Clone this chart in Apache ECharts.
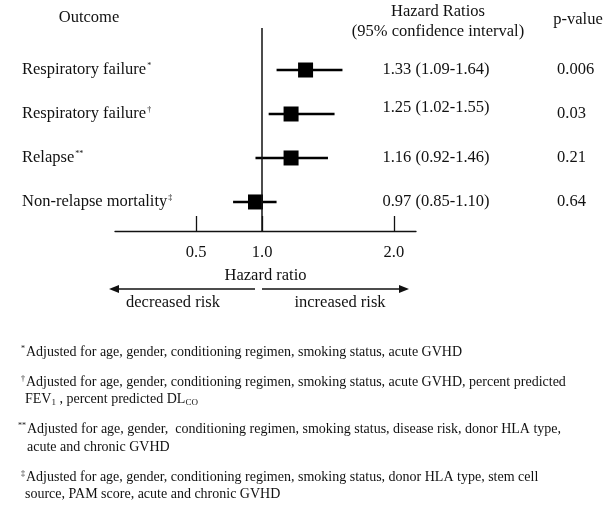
<!DOCTYPE html>
<html><head><meta charset="utf-8">
<script src="https://cdn.jsdelivr.net/npm/echarts@6/dist/echarts.min.js"></script>
<style>html,body{margin:0;padding:0;background:#fff}#c{width:608px;height:511px}</style>
</head><body><div id="c"></div>
<script>
// ---- data ----
var outcomes = ['Respiratory failure', 'Respiratory failure', 'Relapse', 'Non-relapse mortality'];
var outcomeMarks = ['*', '†', '**', '‡'];
var hrEstimate = [1.33, 1.22, 1.22, 0.95];
var ciLower = [1.11, 1.05, 0.95, 0.78];
var ciUpper = [1.61, 1.55, 1.50, 1.11];
var hrText = ['1.33 (1.09-1.64)', '1.25 (1.02-1.55)', '1.16 (0.92-1.46)', '0.97 (0.85-1.10)'];
var pValues = ['0.006', '0.03', '0.21', '0.64'];
var xTicks = [0.5, 1.0, 2.0];
var refValue = 1.0;

var FONT = '"Liberation Serif", "DejaVu Serif", serif';
var FS = 16.5;
var chart = echarts.init(document.getElementById('c'), null, {renderer: 'canvas'});
var rowIdx = outcomes.map(function (_, i) { return i; });

var forestData = rowIdx.map(function (i) { return [i, hrEstimate[i], ciLower[i], ciUpper[i]]; });

function yAxisBase(extra) {
  var o = {
    type: 'value', inverse: true, min: -0.955, max: 3.66,
    splitLine: {show: false}, axisLine: {show: false}, axisTick: {show: false},
    axisLabel: {show: true, customValues: rowIdx, fontFamily: FONT, fontSize: FS, color: '#111'}
  };
  for (var k in extra) {
    if (k === 'axisLabel') { for (var j in extra.axisLabel) o.axisLabel[j] = extra.axisLabel[j]; }
    else o[k] = extra[k];
  }
  return o;
}

var option = {
  backgroundColor: '#fff',
  animation: false,
  grid: {left: 115, right: 192, top: 28, height: 203},
  xAxis: {
    type: 'value', min: -0.116, max: 2.168,
    splitLine: {show: false},
    axisLine: {onZero: false, lineStyle: {color: '#111', width: 1.3}},
    axisTick: {inside: true, length: 15, customValues: xTicks, lineStyle: {color: '#111', width: 1.3}},
    axisLabel: {customValues: xTicks, margin: 13, fontFamily: FONT, fontSize: FS, color: '#111',
      formatter: function (v) { return v.toFixed(1); }},
    name: 'Hazard ratio', nameLocation: 'middle', nameGap: 36,
    nameTextStyle: {fontFamily: FONT, fontSize: FS, color: '#111'}
  },
  yAxis: [
    yAxisBase({position: 'left', axisLabel: {align: 'left', margin: 93,
      formatter: function (v) { return outcomes[v] + '{s|' + outcomeMarks[v] + '}'; },
      rich: {s: {fontFamily: FONT, fontSize: 8, verticalAlign: 'top', padding: [0, 0, 8, 1], color: '#111'}}}}),
    yAxisBase({position: 'right', axisLabel: {align: 'center', margin: 20,
      formatter: function (v) { return v === 1 ? '{up|' + hrText[v] + '}' : hrText[v]; },
      rich: {up: {fontFamily: FONT, fontSize: FS, color: '#111', padding: [0, 0, 13, 0]}}}}),
    yAxisBase({position: 'right', axisLabel: {align: 'left', margin: 141,
      formatter: function (v) { return pValues[v]; }}})
  ],
  series: [{
    type: 'custom',
    data: forestData,
    encode: {x: [1, 2, 3], y: 0},
    renderItem: function (params, api) {
      var y = api.value(0);
      var c = api.coord([api.value(1), y]);
      var l = api.coord([api.value(2), y]);
      var h = api.coord([api.value(3), y]);
      var s = 15;
      return {type: 'group', children: [
        {type: 'line', shape: {x1: l[0], y1: l[1], x2: h[0], y2: h[1]}, style: {stroke: '#000', lineWidth: 2.6}},
        {type: 'rect', shape: {x: c[0] - s / 2, y: c[1] - s / 2, width: s, height: s}, style: {fill: '#000'}}
      ]};
    },
    markLine: {
      silent: true, symbol: 'none', label: {show: false},
      lineStyle: {color: '#111', width: 1.5, type: 'solid'},
      data: [{xAxis: refValue}]
    }
  }]
};

function txt(x, y, text, size, align, rich) {
  return {type: 'text', x: x, y: y, style: {text: text, fontFamily: FONT, fontSize: size, fill: '#111',
    align: align || 'left', verticalAlign: 'middle', rich: rich}};
}
var FN = 14;
var fRich = {
  s: {fontFamily: FONT, fontSize: 8, verticalAlign: 'top', padding: [0, 1, 7, 0], color: '#111'},
  sub: {fontFamily: FONT, fontSize: 9, padding: [7, 0, 0, 0], color: '#111'}
};
option.graphic = [
  txt(89, 18, 'Outcome', FS, 'center'),
  txt(438, 12, 'Hazard Ratios', FS, 'center'),
  txt(438, 32, '(95% confidence interval)', FS, 'center'),
  txt(578, 20, 'p-value', FS, 'center'),
  txt(173, 303, 'decreased risk', FS, 'center'),
  txt(340, 303, 'increased risk', FS, 'center'),
  {type: 'polyline', shape: {points: [[255, 289], [112, 289]]}, style: {stroke: '#111', lineWidth: 1.3}},
  {type: 'polygon', shape: {points: [[109, 289], [119, 285], [119, 293]]}, style: {fill: '#111'}},
  {type: 'polyline', shape: {points: [[262, 289], [405, 289]]}, style: {stroke: '#111', lineWidth: 1.3}},
  {type: 'polygon', shape: {points: [[409, 289], [399, 285], [399, 293]]}, style: {fill: '#111'}},
  txt(21, 352, '{s|*}Adjusted for age, gender, conditioning regimen, smoking status, acute GVHD', FN, 'left', fRich),
  txt(21, 382, '{s|†}Adjusted for age, gender, conditioning regimen, smoking status, acute GVHD, percent predicted', FN, 'left', fRich),
  txt(25, 399, 'FEV{sub|1} , percent predicted DL{sub|CO}', FN, 'left', fRich),
  txt(18, 429, '{s|**}Adjusted for age, gender,  conditioning regimen, smoking status, disease risk, donor HLA type,', FN, 'left', fRich),
  txt(27, 447, 'acute and chronic GVHD', FN, 'left', fRich),
  txt(21, 477, '{s|‡}Adjusted for age, gender, conditioning regimen, smoking status, donor HLA type, stem cell', FN, 'left', fRich),
  txt(25, 494, 'source, PAM score, acute and chronic GVHD', FN, 'left', fRich)
];
chart.setOption(option);
</script></body></html>
